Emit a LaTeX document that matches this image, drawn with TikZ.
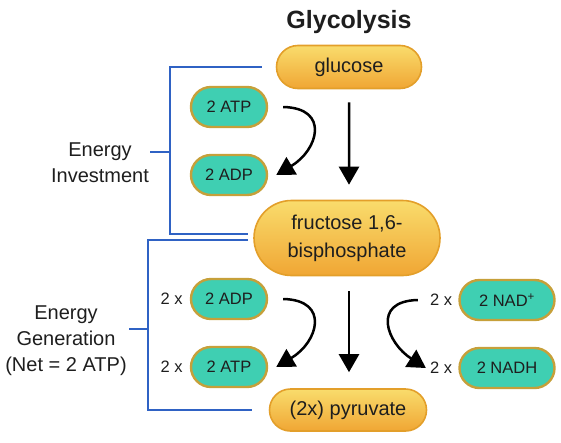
\documentclass[tikz,border=0pt]{standalone}
\usepackage{fontspec}
\setmainfont{Liberation Sans}
\usepackage{tikz}
\usetikzlibrary{arrows.meta,positioning,shapes.misc}
\definecolor{sugartop}{HTML}{F9DC6C}
\definecolor{sugarbot}{HTML}{F0A634}
\definecolor{sugarline}{HTML}{E39F2A}
\definecolor{carrierfill}{HTML}{3FCFB2}
\definecolor{carrierline}{HTML}{C6A03A}
\definecolor{bracketblue}{HTML}{2F62C4}
\definecolor{inktext}{HTML}{1E1E1E}

\tikzset{
  sugar/.style={rounded rectangle, draw=sugarline, line width=1.6pt, top color=sugartop, bottom color=sugarbot,
    text=inktext, font=\fontsize{20}{28}\selectfont, align=center, inner sep=0pt},
  carrier/.style={rounded rectangle, draw=carrierline, line width=2.4pt, fill=carrierfill, text=inktext,
    font=\fontsize{16.5}{20}\selectfont, minimum height=40pt, minimum width=76pt, inner sep=0pt},
  times/.style={text=inktext, font=\fontsize{16.5}{20}\selectfont, inner sep=0pt},
  phase/.style={text=inktext, font=\fontsize{20}{26}\selectfont, align=center, inner sep=0pt},
  bracket/.style={bracketblue, line width=2pt},
  flow/.style={line width=2.5pt, -{Triangle[length=18pt,width=20pt]}}
}

\begin{document}
\begin{tikzpicture}[x=1pt, y=-1pt]
\useasboundingbox (0,0) rectangle (561,442);

\node[anchor=base, text=inktext, font=\fontsize{25}{28}\selectfont\bfseries] (title) at (349,28) {Glycolysis};

% sugars down the middle
\node[sugar, minimum width=145pt, minimum height=43pt] (glucose) at (349,67) {glucose};
\node[sugar, minimum width=186pt, minimum height=75pt] (fructose) at (347,238) {fructose 1,6-\\bisphosphate};
\node[sugar, minimum width=157pt, minimum height=42pt] (pyruvate) at (348,410) {(2x) pyruvate};

% carriers
\node[carrier] (atpa) at (229,107) {2 ATP};
\node[carrier] (adpa) at (229,175) {2 ADP};
\node[carrier] (adpb) at (229,299) {2 ADP};
\node[carrier] (atpb) at (229,367) {2 ATP};
\node[carrier, minimum width=95pt] (nad) at (507,300) {2 NAD\textsuperscript{+}};
\node[carrier, minimum width=95pt] (nadh) at (507,368) {2 NADH};
\node[times, left=7pt of adpb] (xadp) {2 x};
\node[times, left=7pt of atpb] (xatp) {2 x};
\node[times, left=6pt of nad] (xnad) {2 x};
\node[times, left=6pt of nadh] (xnadh) {2 x};

% phases
\node[phase] (invest) at (100,163) {Energy\\Investment};
\node[phase] (generate) at (66,341) {Energy\\Generation\\(Net = 2 ATP)};
\draw[bracket] ([xshift=-14pt]glucose.west) -| (170,234) -- (248,234);
\draw[bracket] (150,152) -- (170,152);
\draw[bracket] (248,240) -| (148,410) -- (252,410);
\draw[bracket] (129,329) -- (148,329);

% arrows
\draw[flow, shorten <=13pt, shorten >=15pt] (glucose) -- (glucose |- fructose.north);
\draw[flow, shorten <=15pt, shorten >=16pt] (fructose.south -| glucose) -- (pyruvate.north -| glucose);
\draw[flow] ([xshift=15pt]atpa.east) .. controls +(47,1) and +(42,-25) .. ([xshift=8pt]adpa.east);
\draw[flow] ([xshift=15pt]adpb.east) .. controls +(47,1) and +(42,-25) .. ([xshift=8pt]atpb.east);
\draw[flow] ([xshift=-12pt]xnad.west) .. controls +(-47,1) and +(-39,-25) .. ([xshift=-4pt]xnadh.west);
\end{tikzpicture}
\end{document}
